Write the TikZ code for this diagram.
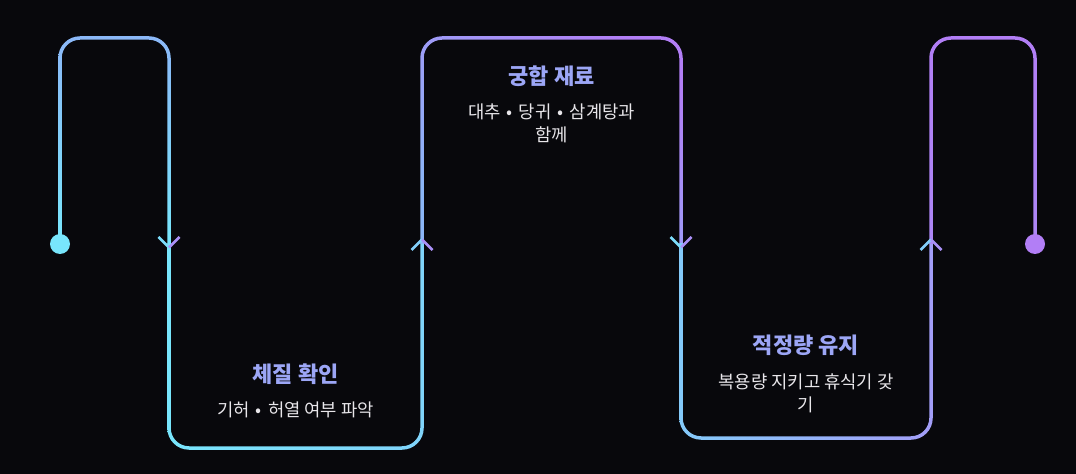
\documentclass[tikz,border=0pt]{standalone}
\usepackage{fontspec}
\setmainfont{Noto Sans CJK KR}
\definecolor{InkBg}{HTML}{08080C}
\definecolor{CyanLine}{HTML}{78E6FC}
\definecolor{SkyLine}{HTML}{8CB6F8}
\definecolor{LilacLine}{HTML}{A49CF8}
\definecolor{PurpleLine}{HTML}{B27EF6}
\definecolor{TitleLilac}{HTML}{9CA6F6}
\definecolor{NoteWhite}{HTML}{E8E6EA}
\newcommand{\sepdot}{\hspace{1.6pt}•\hspace{1.6pt}}

\tikzset{
  px/.style={x=0.75pt, y=-0.75pt},
  outer/.style={rounded corners=16.3pt},
  inner/.style={rounded corners=13.7pt},
  chev/.style={line width=1.9pt},
  title/.style={text=TitleLilac, font=\fontsize{16.5}{19}\selectfont\bfseries, inner sep=0pt},
  note/.style={text=NoteWhite, font=\fontsize{13.3}{17.25}\selectfont, align=center, inner sep=0pt}
}

\begin{document}
\begin{tikzpicture}[px]
\fill[InkBg] (0,0) rectangle (1076,474);

% wire, segment by segment
\begin{scope}[even odd rule]
\clip (50,28) rectangle (180,244);
\clip [outer] (58.25,36.25) rectangle (170.75,290) [inner] (61.75,39.75) rectangle (167.25,290);
\shade[top color=SkyLine, bottom color=CyanLine] (50,28) rectangle (180,244);
\end{scope}

\begin{scope}[even odd rule]
\clip (159,244) rectangle (432,458);
\clip [outer] (167.25,200) rectangle (423.75,449.75) [inner] (170.75,200) rectangle (420.25,446.25);
\shade[left color=CyanLine, right color=CyanLine!60!SkyLine] (159,244) rectangle (432,458);
\end{scope}

\begin{scope}[even odd rule]
\clip (412,28) rectangle (691,244);
\clip [outer] (420.25,36.25) rectangle (682.75,290) [inner] (423.75,39.75) rectangle (679.25,290);
\shade[bottom color=SkyLine, top color=PurpleLine, shading angle=-40] (412,28) rectangle (691,244);
\end{scope}

\begin{scope}[even odd rule]
\clip (671,244) rectangle (941,448);
\clip [outer] (679.25,200) rectangle (932.75,439.75) [inner] (682.75,200) rectangle (929.25,436.25);
\shade[left color=CyanLine!45!SkyLine, right color=LilacLine] (671,244) rectangle (941,448);
\end{scope}

\begin{scope}[even odd rule]
\clip (921,28) rectangle (1045,244);
\clip [outer] (929.25,36.25) rectangle (1036.75,290) [inner] (932.75,39.75) rectangle (1033.25,290);
\shade[bottom color=PurpleLine!85!SkyLine, top color=PurpleLine] (921,28) rectangle (1045,244);
\end{scope}

\node[circle, fill=CyanLine, minimum size=15pt, inner sep=0pt] (start) at (60,244) {};
\node[circle, fill=PurpleLine, minimum size=15pt, inner sep=0pt] (finish) at (1035,244) {};

\coordinate (turnA) at (169,244);
\coordinate (turnB) at (422,244);
\coordinate (turnC) at (681,244);
\coordinate (turnD) at (931,244);

\foreach \t in {turnA, turnC} {
  \draw[chev, CyanLine!80!SkyLine] (\t) ++(-10.5,-7) -- ++(10.5,10.5);
  \draw[chev, LilacLine!60!PurpleLine] (\t) ++(10.5,-7) -- ++(-10.5,10.5);
}
\foreach \t in {turnB, turnD} {
  \draw[chev, CyanLine!50!SkyLine] (\t) ++(-10.5,6) -- ++(10.5,-10.5);
  \draw[chev, LilacLine!60!PurpleLine] (\t) ++(10.5,6) -- ++(-10.5,-10.5);
}

\node[title] (titleA) at (295.5,374) {체질 확인};
\node[note] (noteA) at (295.5,410) {기허 \sepdot{} 허열 여부 파악};

\node[title] (titleC) at (551.5,76) {궁합 재료};
\node[note] (noteC) at (551.5,123.5) {대추 \sepdot{} 당귀 \sepdot{} 삼계탕과\\함께};

\node[title] (titleD) at (806,345) {적정량 유지};
\node[note] (noteD) at (806,393) {복용량 지키고 휴식기 갖\\기};
\end{tikzpicture}
\end{document}
